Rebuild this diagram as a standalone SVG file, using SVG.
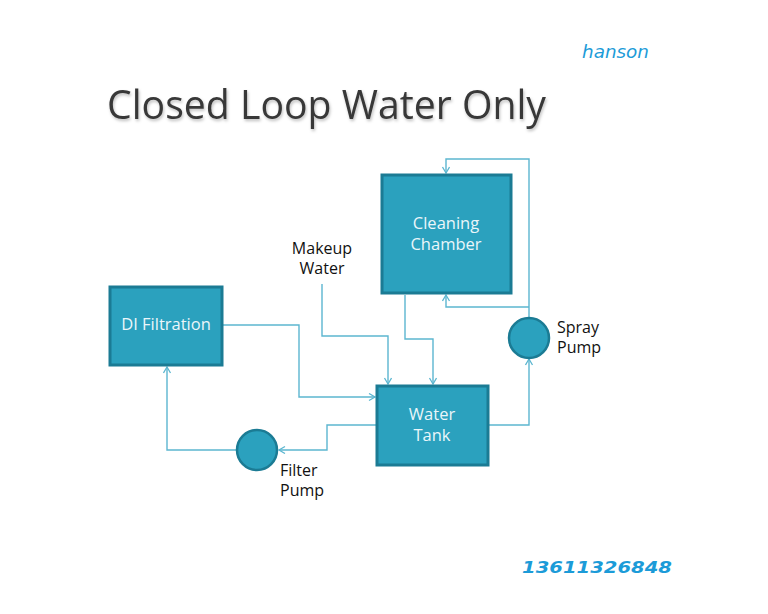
<svg xmlns="http://www.w3.org/2000/svg" width="768" height="614" viewBox="0 0 768 614">
<defs>
<style>
.box{fill:#2ba1be;stroke:#1b7b94;stroke-width:3}
.pump{fill:#2ba1be;stroke:#1b7b94;stroke-width:2.5}
.bt{font-family:"Open Sans","DejaVu Sans",sans-serif;font-size:16.5px;fill:#eaf6fa;text-anchor:middle}
.lbl{font-family:"Open Sans","DejaVu Sans",sans-serif;font-size:16px;fill:#111}
.con{fill:none;stroke:#5cb6d0;stroke-width:1.4}
</style>
<marker id="arr" markerWidth="10" markerHeight="10" refX="7" refY="4" orient="auto" markerUnits="userSpaceOnUse">
<path d="M1,0.5 L7,4 L1,7.5" fill="none" stroke="#5cb6d0" stroke-width="1.3"/>
</marker>
<filter id="sh" x="-5%" y="-20%" width="110%" height="150%">
<feDropShadow dx="1" dy="2" stdDeviation="1.5" flood-color="#000" flood-opacity="0.25"/>
</filter>
</defs>
<rect width="768" height="614" fill="#fff"/>
<text x="107" y="119" font-family="'Open Sans','DejaVu Sans',sans-serif" font-size="41" fill="#383838" textLength="439" lengthAdjust="spacingAndGlyphs" filter="url(#sh)">Closed Loop Water Only</text>
<text x="582" y="58" font-family="'DejaVu Sans',sans-serif" font-style="italic" font-size="17" fill="#1c9bd8" textLength="67" lengthAdjust="spacingAndGlyphs">hanson</text>
<text x="522" y="573" font-family="'DejaVu Sans',sans-serif" font-style="italic" font-weight="bold" font-size="16" fill="#1c9bd8" textLength="150" lengthAdjust="spacingAndGlyphs">13611326848</text>
<g id="connectors">
<path class="con" d="M529,318 V159 H446 V173" marker-end="url(#arr)"/>
<path class="con" d="M529,307 H446 V295" marker-end="url(#arr)"/>
<path class="con" d="M489,425 H529 V359" marker-end="url(#arr)"/>
<path class="con" d="M376,425 H327 V450 H279" marker-end="url(#arr)"/>
<path class="con" d="M237,450 H167 V367" marker-end="url(#arr)"/>
<path class="con" d="M223,325 H299 V397 H375" marker-end="url(#arr)"/>
<path class="con" d="M322,284 V336 H388 V384" marker-end="url(#arr)"/>
<path class="con" d="M405,295 V339 H433 V384" marker-end="url(#arr)"/>
</g>
<g id="cleaning-chamber">
<rect class="box" x="382" y="175" width="129" height="118"/>
<text class="bt" x="446" y="229">Cleaning</text>
<text class="bt" x="446" y="250">Chamber</text>
</g>
<g id="di-filtration">
<rect class="box" x="110" y="287" width="112" height="78"/>
<text class="bt" x="166" y="330">DI Filtration</text>
</g>
<g id="water-tank">
<rect class="box" x="377" y="386" width="111" height="79"/>
<text class="bt" x="432" y="420">Water</text>
<text class="bt" x="432" y="441">Tank</text>
</g>
<g id="spray-pump">
<circle class="pump" cx="529" cy="338" r="20"/>
<text class="lbl" x="557" y="333">Spray</text>
<text class="lbl" x="557" y="353">Pump</text>
</g>
<g id="filter-pump">
<circle class="pump" cx="257" cy="450" r="20"/>
<text class="lbl" x="280" y="476">Filter</text>
<text class="lbl" x="280" y="496">Pump</text>
</g>
<g id="makeup-water">
<text class="lbl" x="322" y="254" text-anchor="middle">Makeup</text>
<text class="lbl" x="322" y="274" text-anchor="middle">Water</text>
</g>
</svg>
